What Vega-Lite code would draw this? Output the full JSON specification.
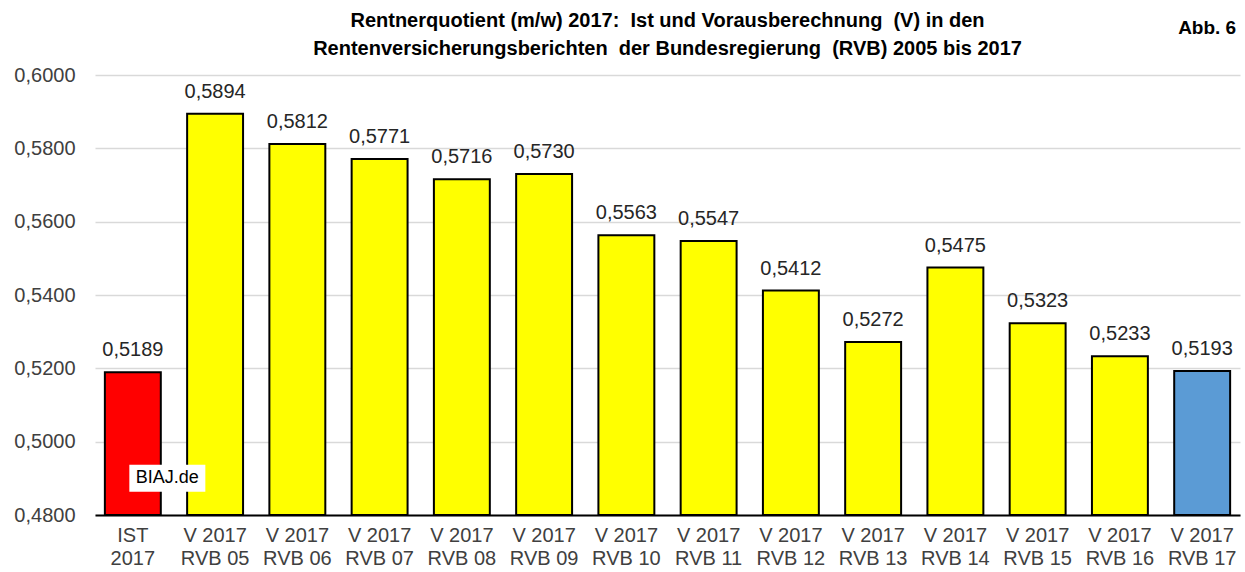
{
  "$schema": "https://vega.github.io/schema/vega-lite/v6.json",
  "width": 1145,
  "height": 440,
  "autosize": {"type": "none"},
  "padding": {"left": 95, "top": 75, "right": 5, "bottom": 57},
  "background": "white",
  "config": {
    "view": {"stroke": null},
    "font": "Liberation Sans",
    "locale": {"number": {"decimal": ",", "thousands": ".", "grouping": [3], "currency": ["", " €"]}}
  },
  "title": {
    "text": ["Rentnerquotient (m/w) 2017: \u00a0Ist und Vorausberechnung \u00a0(V) in den", "Rentenversicherungsberichten \u00a0der Bundesregierung \u00a0(RVB) 2005 bis 2017"],
    "font": "Liberation Sans",
    "fontWeight": "bold",
    "fontSize": 20,
    "lineHeight": 28,
    "offset": 0,
    "dy": 40,
    "anchor": "middle",
    "frame": "group",
    "color": "#000000"
  },
  "data": {
    "values": [
      {"cat": "IST|2017", "value": 0.5189, "typ": "Ist"},
      {"cat": "V 2017|RVB 05", "value": 0.5894, "typ": "V"},
      {"cat": "V 2017|RVB 06", "value": 0.5812, "typ": "V"},
      {"cat": "V 2017|RVB 07", "value": 0.5771, "typ": "V"},
      {"cat": "V 2017|RVB 08", "value": 0.5716, "typ": "V"},
      {"cat": "V 2017|RVB 09", "value": 0.5730, "typ": "V"},
      {"cat": "V 2017|RVB 10", "value": 0.5563, "typ": "V"},
      {"cat": "V 2017|RVB 11", "value": 0.5547, "typ": "V"},
      {"cat": "V 2017|RVB 12", "value": 0.5412, "typ": "V"},
      {"cat": "V 2017|RVB 13", "value": 0.5272, "typ": "V"},
      {"cat": "V 2017|RVB 14", "value": 0.5475, "typ": "V"},
      {"cat": "V 2017|RVB 15", "value": 0.5323, "typ": "V"},
      {"cat": "V 2017|RVB 16", "value": 0.5233, "typ": "V"},
      {"cat": "V 2017|RVB 17", "value": 0.5193, "typ": "V17"}
    ]
  },
  "encoding": {
    "x": {
      "field": "cat",
      "type": "nominal",
      "sort": null,
      "scale": {"paddingInner": 0.32, "paddingOuter": 0.12},
      "axis": {
        "title": null,
        "labelAngle": 0,
        "labelExpr": "split(datum.value, '|')",
        "labelFontSize": 20,
        "labelLineHeight": 23,
        "labelColor": "#404040",
        "labelPadding": 10,
        "ticks": false,
        "domainColor": "#000000",
        "domainWidth": 2,
        "grid": false,
        "zindex": 1
      }
    },
    "y": {
      "field": "value",
      "type": "quantitative",
      "scale": {"domain": [0.48, 0.6], "zero": false, "nice": false, "clamp": true},
      "axis": {
        "title": null,
        "values": [0.48, 0.5, 0.52, 0.54, 0.56, 0.58, 0.6],
        "format": ".4f",
        "labelFontSize": 20,
        "labelColor": "#404040",
        "labelPadding": 20,
        "domain": false,
        "ticks": false,
        "gridColor": "#d9d9d9",
        "gridWidth": 1.5
      }
    }
  },
  "layer": [
    {
      "mark": {"type": "bar", "stroke": "#000000", "strokeWidth": 2},
      "encoding": {
        "color": {
          "field": "typ",
          "type": "nominal",
          "scale": {"domain": ["Ist", "V", "V17"], "range": ["#ff0000", "#ffff00", "#5b9bd5"]},
          "legend": null
        }
      }
    },
    {
      "mark": {"type": "text", "baseline": "alphabetic", "dy": -16, "fontSize": 20, "color": "#262626"},
      "encoding": {
        "text": {"field": "value", "type": "quantitative", "format": ".4f"}
      }
    },
    {
      "data": {"values": [{"cat": "IST|2017", "value": 0.4900, "t": "BIAJ.de"}]},
      "mark": {"type": "point", "filled": true, "color": "white", "opacity": 1, "size": 10000, "shape": "M-0.07,-0.27L1.45,-0.27L1.45,0.27L-0.07,0.27Z"}
    },
    {
      "data": {"values": [{"cat": "IST|2017", "value": 0.4900, "t": "BIAJ.de"}]},
      "mark": {"type": "text", "align": "left", "baseline": "middle", "dx": 3, "fontSize": 18, "color": "#000000"},
      "encoding": {"text": {"field": "t"}}
    },
    {
      "data": {"values": [{"cat": "V 2017|RVB 17", "value": 0.6, "t": "Abb. 6"}]},
      "mark": {"type": "text", "align": "center", "baseline": "middle", "dx": 5, "dy": -47, "fontSize": 19, "fontWeight": "bold", "color": "#000000"},
      "encoding": {"text": {"field": "t"}}
    }
  ]
}
